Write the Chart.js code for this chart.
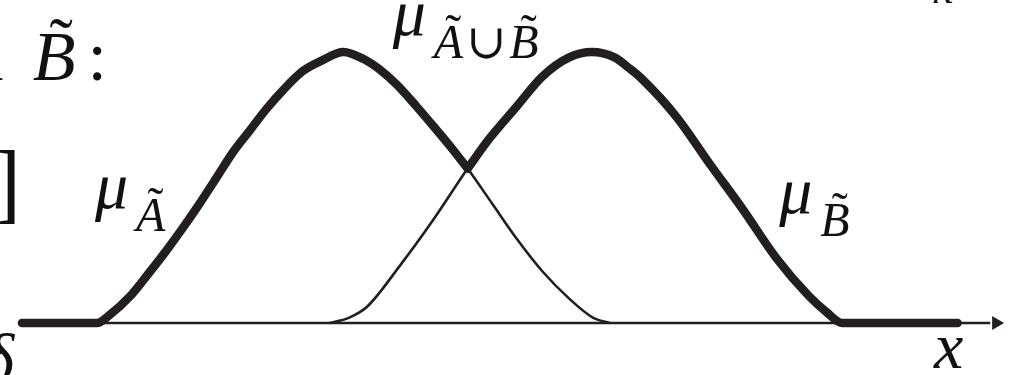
<!DOCTYPE html>
<html>
<head>
<meta charset="utf-8">
<script src="https://cdn.jsdelivr.net/npm/chart.js@4"></script>
<style>
  html, body { margin: 0; padding: 0; background: #fff; }
  canvas { display: block; }
</style>
</head>
<body>
<canvas id="grafico" width="1012" height="375"></canvas>
<script>
// membership function of A (thin curve)
const xA  = [0.80, 0.93, 1.14, 1.34, 1.51, 1.67, 1.84, 2.02, 2.18, 2.35, 2.52, 2.69, 2.89, 3.09, 3.30, 3.50, 3.67, 3.84, 4.04, 4.25, 4.41, 4.56, 4.81, 5.06, 5.32, 5.59, 5.83, 6.00];
const muA = [0,    0.03, 0.10, 0.19, 0.27, 0.35, 0.44, 0.54, 0.63, 0.71, 0.79, 0.86, 0.93, 0.97, 1.00, 0.975, 0.935, 0.88, 0.80, 0.71, 0.64, 0.57, 0.44, 0.31, 0.19, 0.09, 0.02, 0];

// membership function of B (thin curve)
const xB  = [3.16, 3.36, 3.54, 3.87, 4.21, 4.56, 4.78, 5.06, 5.32, 5.59, 5.82, 6.05, 6.20, 6.33, 6.68, 7.01, 7.35, 7.69, 8.02, 8.20, 8.36];
const muB = [0,    0.02, 0.06, 0.21, 0.38, 0.57, 0.68, 0.80, 0.91, 0.98, 1.00, 0.98, 0.94, 0.90, 0.76, 0.59, 0.42, 0.24, 0.10, 0.04, 0];

// union (thick), split at the crossing so the V stays sharp
const xUnionLeft  = [0.04, 0.80, 0.93, 1.14, 1.34, 1.51, 1.67, 1.84, 2.02, 2.18, 2.35, 2.52, 2.69, 2.89, 3.09, 3.30, 3.50, 3.67, 3.84, 4.04, 4.25, 4.41, 4.56];
const muUnionLeft = [0,    0,    0.03, 0.10, 0.19, 0.27, 0.35, 0.44, 0.54, 0.63, 0.71, 0.79, 0.86, 0.93, 0.97, 1.00, 0.975, 0.935, 0.88, 0.80, 0.71, 0.64, 0.57];
const xUnionRight  = [4.56, 4.78, 5.06, 5.32, 5.59, 5.82, 6.05, 6.20, 6.33, 6.68, 7.01, 7.35, 7.69, 8.02, 8.20, 8.36, 9.53];
const muUnionRight = [0.57, 0.68, 0.80, 0.91, 0.98, 1.00, 0.98, 0.94, 0.90, 0.76, 0.59, 0.42, 0.24, 0.10, 0.04, 0,    0];

// x axis and its arrow head
const axisX = [0, 9.86];
const arrowX = [9.92];

// mu labels (letters get a tilde)
const muLabelX = [0.78, 3.80, 7.72];
const muLabelY = [0.425, 1.063, 0.406];
const muLabelSub = [["A"], ["A", "\u222A", "B"], ["B"]];

const ink = "#231f20";
const serif = "'Liberation Serif', 'Times New Roman', Times, 'DejaVu Serif', serif";

const pts = (xs, ys) => xs.map((v, i) => ({ x: v, y: ys[i] }));

function put(ctx, str, x, y, size, italic) {
  ctx.font = (italic ? "italic " : "") + size + "px " + serif;
  ctx.fillText(str, x, y);
  return x + ctx.measureText(str).width;
}

function tilde(ctx, x0, x1, y, size) {
  ctx.save();
  ctx.font = size + "px " + serif;
  ctx.textAlign = "center";
  ctx.fillText("\u02DC", (x0 + x1) / 2 + size * 0.1, y - size * 0.2);
  ctx.restore();
}

// letter with tilde, or plain symbol
function subscript(ctx, parts, x, y, size) {
  for (const p of parts) {
    if (p === "\u222A") {
      x = put(ctx, p, x + 3, y, size, false) + 3;
    } else {
      const x0 = x;
      x = put(ctx, p, x, y, size, true);
      tilde(ctx, x0, x, y, size);
    }
  }
  return x;
}

const textPlugin = {
  id: "texto",
  afterDraw(chart) {
    const ctx = chart.ctx;
    const xs = chart.scales.x;
    const ys = chart.scales.y;
    ctx.save();
    ctx.fillStyle = "#111";
    ctx.textBaseline = "alphabetic";
    ctx.textAlign = "left";

    for (let i = 0; i < muLabelX.length; i++) {
      const px = xs.getPixelForValue(muLabelX[i]);
      const py = ys.getPixelForValue(muLabelY[i]);
      const end = put(ctx, "\u03BC", px, py, 66, true);
      subscript(ctx, muLabelSub[i], end + 8, py + 23, 48);
    }

    // axis name
    put(ctx, "x", xs.getPixelForValue(9.29), ys.getPixelForValue(-0.166), 66, true);

    // text running off the edges
    ctx.textAlign = "right";
    put(ctx, "and", xs.getPixelForValue(-0.15), ys.getPixelForValue(0.897), 68, false);
    put(ctx, "]", xs.getPixelForValue(0.03), ys.getPixelForValue(0.41), 88, false);
    ctx.textAlign = "left";
    const bx = xs.getPixelForValue(0.15);
    const by = ys.getPixelForValue(0.897);
    const bEnd = put(ctx, "B", bx, by, 70, true);
    tilde(ctx, bx, bEnd, by, 70);
    put(ctx, ":", bEnd + 12, by, 70, false);
    put(ctx, "\u03B4", xs.getPixelForValue(-0.36), ys.getPixelForValue(-0.214), 68, true);
    put(ctx, "x", xs.getPixelForValue(9.29), ys.getPixelForValue(1.181), 44, true);
    ctx.restore();
  }
};

const lineBase = {
  borderColor: ink,
  backgroundColor: ink,
  pointRadius: 0,
  fill: false,
  cubicInterpolationMode: "monotone",
  clip: false
};

function dibujar() {
  new Chart(document.getElementById("grafico"), {
    type: "line",
    data: {
      datasets: [
        { ...lineBase, label: "union A", data: pts(xUnionLeft, muUnionLeft), borderWidth: 8.5, borderCapStyle: "round", borderJoinStyle: "round", order: 0 },
        { ...lineBase, label: "union B", data: pts(xUnionRight, muUnionRight), borderWidth: 8.5, borderCapStyle: "round", borderJoinStyle: "round", order: 0 },
        { ...lineBase, label: "A", data: pts(xA, muA), borderWidth: 2.6, order: 1 },
        { ...lineBase, label: "B", data: pts(xB, muB), borderWidth: 2.6, order: 1 },
        { ...lineBase, label: "eje", data: pts(axisX, [0, 0]), borderWidth: 2.6, order: 2 },
        {
          ...lineBase, label: "flecha", data: pts(arrowX, [0]), showLine: false,
          pointStyle: "triangle", pointRotation: 90, pointRadius: 8, pointBorderWidth: 0, order: 2
        }
      ]
    },
    options: {
      responsive: false,
      animation: false,
      devicePixelRatio: 1,
      layout: { padding: { left: 18, right: 7, top: 52, bottom: 52 } },
      plugins: { legend: { display: false }, tooltip: { enabled: false } },
      scales: {
        x: { type: "linear", min: 0, max: 10, display: false },
        y: { type: "linear", min: 0, max: 1, display: false }
      }
    },
    plugins: [textPlugin]
  });
}

// make sure the serif faces are ready before the canvas text is drawn
Promise.all([
  document.fonts.load("italic 66px 'Liberation Serif'", "\u03BCxAB"),
  document.fonts.load("66px 'Liberation Serif'", "and]:\u02DC"),
  document.fonts.load("66px 'DejaVu Serif'", "\u222A")
]).catch(() => null).then(dibujar);
</script>
</body>
</html>
